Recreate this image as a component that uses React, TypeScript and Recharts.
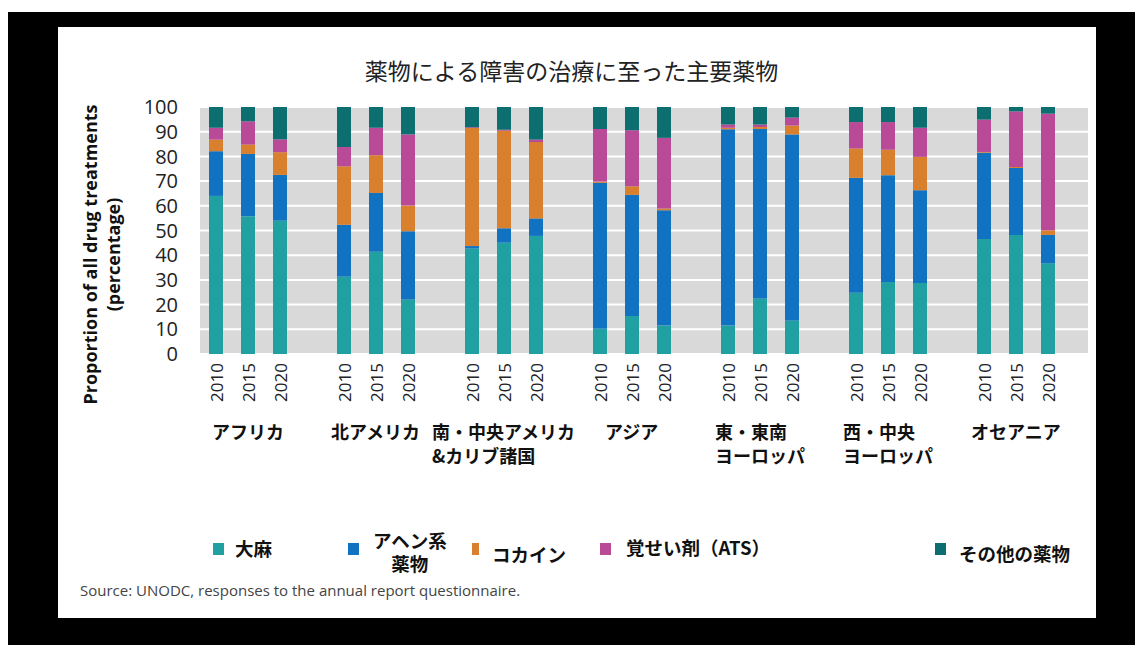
import React from "react";
import { BarChart, Bar, XAxis, YAxis, CartesianGrid, Legend } from "recharts";

const title = "薬物による障害の治療に至った主要薬物";
const source = "Source: UNODC, responses to the annual report questionnaire.";

const regions = [
  ["アフリカ"],
  ["北アメリカ"],
  ["南・中央アメリカ", "&カリブ諸国"],
  ["アジア"],
  ["東・東南", "ヨーロッパ"],
  ["西・中央", "ヨーロッパ"],
  ["オセアニア"],
];
const years = ["2010", "2015", "2020"];
const yTicks = [0, 10, 20, 30, 40, 50, 60, 70, 80, 90, 100];

// one value per region x year (2010, 2015, 2020), same order as regions
const cannabis = [64.0, 55.8, 54.0, 31.3, 41.4, 22.1, 42.7, 45.1, 47.8, 10.2, 15.4, 11.5, 11.5, 22.5, 13.6, 24.8, 29.1, 28.7, 46.6, 48.2, 36.7];
const opioids = [18.1, 25.2, 18.5, 21.0, 23.8, 27.6, 1.0, 5.8, 7.1, 59.1, 49.0, 46.7, 79.5, 68.6, 75.3, 46.5, 43.3, 37.6, 34.9, 27.1, 11.5];
const cocaine = [4.7, 3.8, 9.2, 23.7, 15.3, 10.4, 47.8, 39.5, 30.9, 0.5, 3.5, 0.7, 0.6, 0.8, 3.6, 11.9, 10.3, 13.5, 0.3, 0.4, 1.9];
const ats = [4.8, 9.4, 5.2, 7.8, 11.1, 28.8, 0.3, 0.4, 1.0, 21.3, 22.7, 28.6, 1.3, 1.0, 3.2, 10.7, 11.2, 11.8, 13.1, 22.5, 47.2];
const others = [8.4, 5.8, 13.1, 16.2, 8.4, 11.1, 8.2, 9.2, 13.2, 8.9, 9.4, 12.5, 7.1, 7.1, 4.3, 6.1, 6.1, 8.4, 5.1, 1.8, 2.7];

const series = [
  { key: "cannabis", name: "大麻", color: "#21a0a2", values: cannabis },
  { key: "opioids", name: "アヘン系\n薬物", color: "#1172c2", values: opioids },
  { key: "cocaine", name: "コカイン", color: "#d9802e", values: cocaine },
  { key: "ats", name: "覚せい剤（ATS）", color: "#b84a98", values: ats },
  { key: "others", name: "その他の薬物", color: "#0c6e6e", values: others },
];

// bars grouped by region, with an empty slot between groups
type Row = { [k: string]: any };
const data: Row[] = [];
regions.forEach((lines, g) => {
  years.forEach((year, j) => {
    const row: Row = { slot: `${g}-${year}`, year, region: j === 1 ? lines : null };
    series.forEach((s) => (row[s.key] = s.values[g * 3 + j]));
    data.push(row);
  });
  if (g < regions.length - 1) data.push({ slot: `gap-${g}`, year: "", region: null });
});
const rowBySlot: Record<string, Row> = {};
data.forEach((r) => (rowBySlot[r.slot] = r));

const jp = '"Noto Sans CJK JP", sans-serif';
const latin = '"Open Sans", sans-serif';

const SlotTick = (props: any) => {
  const { x, y, payload } = props;
  const row = rowBySlot[payload.value];
  if (!row || !row.year) return null;
  const fs = 18;
  const lines: string[] | null = row.region;
  const longest = lines ? Math.max(...lines.map((l) => l.length)) : 0;
  const startX = x - (longest * fs) / 2;
  return (
    <g>
      <text
        x={x}
        y={y + 9}
        transform={`rotate(-90 ${x} ${y + 9})`}
        textAnchor="end"
        dominantBaseline="central"
        fontFamily={latin}
        fontSize={17}
        fill="#222"
      >
        {row.year}
      </text>
      {lines &&
        lines.map((l, i) => (
          <text
            key={i}
            x={startX}
            y={y + 85 + i * 24}
            textAnchor="start"
            fontFamily={jp}
            fontWeight={700}
            fontSize={fs}
            fill="#111"
          >
            {l}
          </text>
        ))}
    </g>
  );
};

const YLabel = (props: any) => {
  const { viewBox } = props;
  const cy = viewBox.y + viewBox.height / 2 + 24;
  return (
    <g fontFamily={latin} fontWeight={700} fontSize={18} fill="#111">
      <text x={90} y={cy} transform={`rotate(-90 90 ${cy})`} textAnchor="middle" dominantBaseline="central">
        Proportion of all drug treatments
      </text>
      <text x={113} y={cy} transform={`rotate(-90 113 ${cy})`} textAnchor="middle" dominantBaseline="central">
        (percentage)
      </text>
    </g>
  );
};

const legendPlace: Record<string, { x: number; tx: number; ty: number; mw: number }> = {
  cannabis: { x: 213, tx: 235, ty: 7, mw: 11 },
  opioids: { x: 348, tx: 373, ty: -1, mw: 11 },
  cocaine: { x: 472, tx: 492, ty: 13, mw: 7 },
  ats: { x: 600, tx: 626, ty: 6, mw: 11 },
  others: { x: 935, tx: 959, ty: 12, mw: 11 },
};

const LegendContent = (props: any) => {
  const payload = props.payload || [];
  return (
    <div style={{ position: "relative", width: 1135, height: 50 }}>
      {payload.map((p: any) => {
        const pl = legendPlace[p.dataKey];
        if (!pl) return null;
        return (
          <React.Fragment key={p.dataKey}>
            <div
              style={{
                position: "absolute",
                left: pl.x,
                top: 13,
                width: pl.mw,
                height: 12,
                background: p.color,
              }}
            />
            <div
              style={{
                position: "absolute",
                left: pl.tx,
                top: pl.ty,
                whiteSpace: "pre-line",
                textAlign: "center",
                fontFamily: jp,
                fontWeight: 700,
                fontSize: 18.5,
                lineHeight: "23px",
                color: "#111",
              }}
            >
              {p.value}
            </div>
          </React.Fragment>
        );
      })}
    </div>
  );
};

export default function App() {
  return (
    <div style={{ position: "absolute", left: 0, top: 0, width: 1135, height: 645, background: "#fff", overflow: "hidden" }}>
      <div style={{ position: "absolute", left: 8, top: 12, width: 1127, height: 633, background: "#000" }} />
      <div style={{ position: "absolute", left: 58, top: 27, width: 1038, height: 591, background: "#fff" }} />
      <div
        style={{
          position: "absolute",
          left: 0,
          width: 1135,
          top: 55,
          textAlign: "center",
          fontFamily: jp,
          fontSize: 23,
          color: "#222",
          paddingLeft: 4,
          lineHeight: "30px",
        }}
      >
        {title}
      </div>
      <div style={{ position: "absolute", left: 0, top: 0 }}>
        <BarChart
          width={1135}
          height={645}
          data={data}
          margin={{ top: 107, right: 47, bottom: 171, left: 0 }}
          barSize={14}
        >
          <CartesianGrid vertical={false} fill="#d9d9d9" stroke="#ffffff" strokeWidth={2} />
          <XAxis
            dataKey="slot"
            interval={0}
            height={120}
            tick={<SlotTick />}
            tickLine={false}
            axisLine={false}
            tickSize={0}
            tickMargin={0}
            padding={{ left: 0, right: 24 }}
          />
          <YAxis
            width={200}
            domain={[0, 100]}
            ticks={yTicks}
            interval={0}
            tickLine={false}
            axisLine={false}
            tickSize={0}
            tickMargin={22}
            tick={{ fontFamily: latin, fontSize: 20, fill: "#222" }}
            label={<YLabel />}
          />
          <Legend
            verticalAlign="middle"
            align="center"
            content={<LegendContent />}
            wrapperStyle={{ top: 530, left: 0, width: 1135, height: 50 }}
          />
          {series.map((s) => (
            <Bar key={s.key} dataKey={s.key} name={s.name} stackId="a" fill={s.color} isAnimationActive={false} />
          ))}
        </BarChart>
      </div>
      <div
        style={{
          position: "absolute",
          left: 80,
          top: 580,
          fontFamily: latin,
          fontSize: 15,
          color: "#444",
          whiteSpace: "nowrap",
        }}
      >
        {source}
      </div>
    </div>
  );
}
